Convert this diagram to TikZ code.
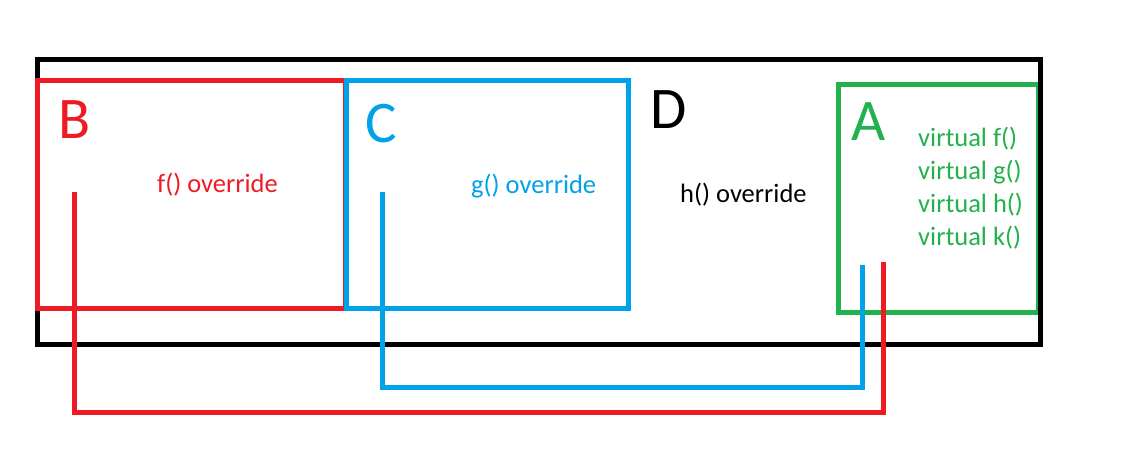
\documentclass[tikz,border=0pt]{standalone}
\usepackage{fontspec}
\setmainfont{Carlito}
\definecolor{pred}{HTML}{ED1C24}
\definecolor{pblue}{HTML}{00A2E8}
\definecolor{pgreen}{HTML}{22B14C}
\tikzset{
  box/.style={line width=5pt},
  conn/.style={line width=5pt},
  big/.style={inner sep=0pt, anchor=base west, font=\fontsize{59}{59}\selectfont},
  small/.style={inner sep=0pt, anchor=base west, font=\fontsize{26.5}{27}\selectfont},
}
\begin{document}
\begin{tikzpicture}[x=1pt,y=-1pt]
\useasboundingbox (0,0) rectangle (1142,466);
% boxes
\draw[box,black] (37,59) rectangle (1040,344);
\draw[box,pred] (37,80) rectangle (345,308);
\draw[box,pblue] (346,80) rectangle (628,308);
\draw[box,pgreen] (838,84) rectangle (1038,312);
\draw[box,black] (1040,59) -- (1040,344);
% labels
\node[big,pred] (lB) at (58,138) {B};
\node[big,pblue] (lC) at (365,142) {C};
\node[big,black] (lD) at (650,128) {D};
\node[big,pgreen] (lA) at (851,140) {A};
\node[small,pred] (fo) at (157,192) {f() override};
\node[small,pblue] (go) at (471,193) {g() override};
\node[small,black] (ho) at (680,202) {h() override};
\node[small,pgreen] (vf) at (918,146) {virtual f()};
\node[small,pgreen] (vg) at (918,179) {virtual g()};
\node[small,pgreen] (vh) at (918,212) {virtual h()};
\node[small,pgreen] (vk) at (918,245) {virtual k()};
% connector ends
\coordinate (rs) at (74,192);
\coordinate (re) at (883,262);
\coordinate (rlow) at (0,412);
\coordinate (bs) at (382,192);
\coordinate (be) at (862,265);
\coordinate (blow) at (0,387);
\draw[conn,pblue] (bs) -- (bs |- blow) -| (be);
\draw[conn,pred] (rs) -- (rs |- rlow) -| (re);
\end{tikzpicture}
\end{document}
